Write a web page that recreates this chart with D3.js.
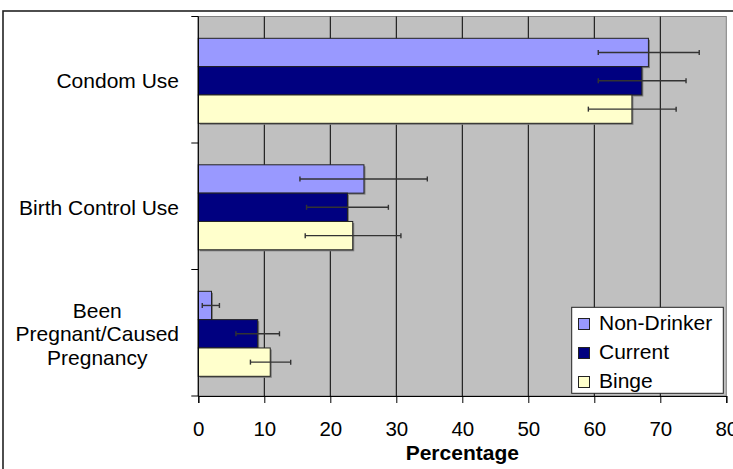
<!DOCTYPE html>
<html><head><meta charset="utf-8">
<script src="https://cdn.jsdelivr.net/npm/d3@7/dist/d3.min.js"></script>
<style>
html,body{margin:0;padding:0;background:#fff;}
svg{display:block;font-family:"Liberation Sans",Arial,sans-serif;}
</style></head>
<body>
<svg id="c" width="733" height="469"></svg>
<script>
const categories = ["Condom Use", "Birth Control Use", "Been\nPregnant/Caused\nPregnancy"];
const seriesNames = ["Non-Drinker", "Current", "Binge"];
const nonDrinker = [68.2, 25.1, 2.0];
const current = [67.2, 22.6, 9.0];
const binge = [65.7, 23.4, 10.9];
const nonDrinkerLow = [60.6, 15.4, 0.6];
const nonDrinkerHigh = [75.9, 34.7, 3.2];
const currentLow = [60.6, 16.4, 5.7];
const currentHigh = [73.9, 28.8, 12.3];
const bingeLow = [59.1, 16.2, 7.9];
const bingeHigh = [72.4, 30.7, 14.0];
const xTicks = [0, 10, 20, 30, 40, 50, 60, 70, 80];
const xTitle = "Percentage";
const colors = ["#9999FF", "#000080", "#FFFFCC"];

const values = [nonDrinker, current, binge];
const lows = [nonDrinkerLow, currentLow, bingeLow];
const highs = [nonDrinkerHigh, currentHigh, bingeHigh];

const svg = d3.select("#c");
const L = 198.3, R = 726.3, T = 16.5, B = 396;
const FS = 21;

// outer frame
svg.append("rect").attr("x", 3).attr("y", 11).attr("width", 760).attr("height", 500)
  .attr("fill", "none").attr("stroke", "#222").attr("stroke-width", 1.6);

const x = d3.scaleLinear().domain([0, 80]).range([L, R]);
const y0 = d3.scaleBand().domain(categories).range([T, B]).paddingInner(0).paddingOuter(0);
const y1 = d3.scaleBand().domain(seriesNames).range([21.8, 21.8 + 85]);

// plot area
svg.append("rect").attr("x", L).attr("y", T).attr("width", R - L).attr("height", B - T)
  .attr("fill", "#C0C0C0").attr("stroke", "#808080").attr("stroke-width", 1);

// gridlines
svg.append("g").selectAll("line").data(xTicks.filter(d => d > 0 && d < 80)).join("line")
  .attr("x1", d => x(d)).attr("x2", d => x(d)).attr("y1", T).attr("y2", B)
  .attr("stroke", "#000").attr("stroke-width", 1);

// bars
const barData = [];
categories.forEach((c, i) => seriesNames.forEach((s, j) => {
  barData.push({c, s, v: values[j][i], lo: lows[j][i], hi: highs[j][i], color: colors[j]});
}));

const g = svg.append("g");
g.selectAll("rect.shadow").data(barData).join("rect").attr("class", "shadow")
  .attr("x", x(0) + 1.5).attr("y", d => y0(d.c) + y1(d.s) + 1.5)
  .attr("width", d => x(d.v) - x(0)).attr("height", y1.bandwidth())
  .attr("fill", "#7a7a7a");
g.selectAll("rect.bar").data(barData).join("rect").attr("class", "bar")
  .attr("x", x(0)).attr("y", d => y0(d.c) + y1(d.s))
  .attr("width", d => x(d.v) - x(0)).attr("height", y1.bandwidth())
  .attr("fill", d => d.color).attr("stroke", "#222").attr("stroke-width", 1);

// error bars
const eg = svg.append("g").attr("stroke", "#333").attr("stroke-width", 1.4);
barData.forEach(d => {
  const yc = y0(d.c) + y1(d.s) + y1.bandwidth() / 2;
  eg.append("line").attr("x1", x(d.lo)).attr("x2", x(d.hi)).attr("y1", yc).attr("y2", yc);
  eg.append("line").attr("x1", x(d.lo)).attr("x2", x(d.lo)).attr("y1", yc - 2.5).attr("y2", yc + 2.5);
  eg.append("line").attr("x1", x(d.hi)).attr("x2", x(d.hi)).attr("y1", yc - 2.5).attr("y2", yc + 2.5);
});

// x axis
const xAxis = d3.axisBottom(x).tickValues(xTicks).tickSize(7).tickPadding(20).tickFormat(d3.format("d"));
const xg = svg.append("g").attr("transform", `translate(0,${B})`).call(xAxis);
xg.select(".domain").attr("stroke", "#000").attr("stroke-width", 1.2);
xg.selectAll(".tick line").attr("stroke", "#000");
xg.selectAll(".tick text").attr("font-size", 20.5).attr("fill", "#000")
  .attr("font-family", "Liberation Sans, Arial, sans-serif")
  .attr("y", 40).attr("dy", 0);

// y axis line and ticks
svg.append("line").attr("x1", L).attr("x2", L).attr("y1", T).attr("y2", B).attr("stroke", "#000").attr("stroke-width", 1.2);
const yTickPos = categories.map(c => y0(c)).concat([B]);
svg.append("g").selectAll("line").data(yTickPos).join("line")
  .attr("x1", L - 7).attr("x2", L).attr("y1", d => d).attr("y2", d => d).attr("stroke", "#000");

// category labels
const lab = svg.append("g").attr("font-size", FS).attr("fill", "#000");
categories.forEach(c => {
  const lines = c.split("\n");
  const cy = y0(c) + y0.bandwidth() / 2;
  const lh = 23.5;
  const t = lab.append("text").attr("text-anchor", "middle");
  lines.forEach((ln, k) => {
    t.append("tspan").attr("y", cy + 8.5 + (k - (lines.length - 1) / 2) * lh).text(ln);
  });
  let maxW = 0;
  t.selectAll("tspan").each(function () { maxW = Math.max(maxW, this.getComputedTextLength()); });
  t.selectAll("tspan").attr("x", 179 - maxW / 2);
});

// x title
svg.append("text").attr("x", (L + R) / 2).attr("y", 459.5).attr("text-anchor", "middle")
  .attr("font-size", FS).attr("font-weight", "bold").text(xTitle);

// legend
const lg = svg.append("g");
lg.append("rect").attr("x", 571.7).attr("y", 307.3).attr("width", 151.6).attr("height", 86)
  .attr("fill", "#fff").attr("stroke", "#222").attr("stroke-width", 1);
seriesNames.forEach((s, j) => {
  const by = 329.5 + j * 29;
  lg.append("rect").attr("x", 578.5).attr("y", by - 11).attr("width", 11).attr("height", 11)
    .attr("fill", colors[j]).attr("stroke", "#222").attr("stroke-width", 1);
  lg.append("text").attr("x", 599).attr("y", by).attr("font-size", FS).text(s);
});
</script>
</body></html>
